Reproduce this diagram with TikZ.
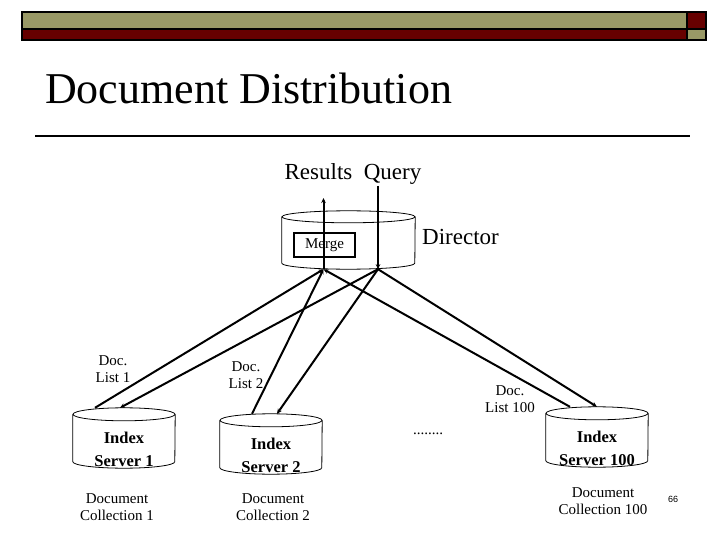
\documentclass[tikz,border=0pt]{standalone}
\usepackage{fontspec}
\setmainfont{Liberation Serif}
\setsansfont{Liberation Sans}
\usetikzlibrary{arrows.meta}
\definecolor{barolive}{RGB}{153,153,102}
\definecolor{bardarkred}{RGB}{102,0,0}
\tikzstyle{server} = [rectangle, minimum width=102pt, minimum height=60pt, inner sep=0pt]
\tikzstyle{srvtext} = [align=center, inner sep=0pt, font=\bfseries\fontsize{16.5}{23}\selectfont]
\tikzstyle{director} = [rectangle, minimum width=133pt, minimum height=58pt, inner sep=0pt]
\tikzstyle{dbline} = [draw=black, line width=0.8pt]
\tikzstyle{mergebox} = [rectangle, draw=black, line width=2.5pt, minimum width=61pt, minimum height=24pt, font=\fontsize{15}{17}\selectfont]
\tikzstyle{doclabel} = [align=center, inner sep=0pt, font=\fontsize{15}{17}\selectfont]
\tikzstyle{link} = [line width=2pt, -{Stealth[length=5pt,width=4.5pt]}]

% cylinder outline round a node: #1 node, #2 x radius, #3 y radius
\newcommand{\dbshape}[3]{%
  \draw[dbline] ([yshift=-#3]#1.north west) -- ([yshift=#3]#1.south west)
    arc[start angle=180, end angle=360, x radius=#2, y radius=#3]
    -- ([yshift=-#3]#1.north east);
  \draw[dbline] ([yshift=-#3]#1.north) ellipse [x radius=#2, y radius=#3];
}

\begin{document}
\begin{tikzpicture}[x=1pt,y=-1pt]
\useasboundingbox (0,0) rectangle (720,540);

% top bar
\draw[fill=barolive, line width=1.6pt] (22,12) rectangle (687,29);
\draw[fill=bardarkred, line width=1.6pt] (687,12) rectangle (706,29);
\draw[fill=bardarkred, line width=1.6pt] (22,29) rectangle (687,40);
\draw[fill=barolive, line width=1.6pt] (687,29) rectangle (706,40);

\node[anchor=base west, inner sep=0pt, font=\fontsize{44}{50}\selectfont] (title) at (45,104) {Document Distribution};
\draw[line width=1.5pt] (35,136) -- (690,136);

\node[anchor=base, inner sep=0pt, font=\fontsize{23}{26}\selectfont] (rq) at (353,180) {Results\ \ Query};

% director
\node (director) [director] at (348.5,240) {};
\dbshape{director}{66.5pt}{6pt}
\node (merge) [mergebox] at (324.5,245) {Merge};
\node[anchor=base west, inner sep=0pt, font=\fontsize{23}{26}\selectfont] (dirname) at (422,244) {Director};

\coordinate (mergept) at ([xshift=-25pt]director.south);
\coordinate (querypt) at ([xshift=29.5pt]director.south);
\coordinate (res) at (mergept |- 0,198);
\coordinate (qry) at (querypt |- 0,186);
\draw[link] (mergept) -- (res);
\draw[link] (qry) -- (querypt);

% index servers
\node (srv1) [server] at (124,438) {};
\node (srv2) [server] at (271,444) {};
\node (srv100) [server] at (597,437) {};
\dbshape{srv1}{51pt}{6.5pt}
\dbshape{srv2}{51pt}{6.5pt}
\dbshape{srv100}{51pt}{6.5pt}
\node (srv1text) [srvtext] at ([yshift=-11pt]srv1.center) {Index\\Server 1};
\node (srv2text) [srvtext] at ([yshift=-11pt]srv2.center) {Index\\Server 2};
\node (srv100text) [srvtext] at ([yshift=-11pt]srv100.center) {Index\\Server 100};

\draw[link] ([xshift=-29pt]srv1.north) -- (mergept);
\draw[link] (querypt) -- ([xshift=-4pt]srv1.north);
\draw[link] ([xshift=-19pt]srv2.north) -- (mergept);
\draw[link] (querypt) -- ([xshift=6pt]srv2.north);
\draw[link] ([xshift=-27pt]srv100.north) -- (mergept);
\draw[link] (querypt) -- (srv100.north);

\node (list1) [doclabel] at (113,369) {Doc.\\List 1};
\node (list2) [doclabel] at (246,375) {Doc.\\List 2};
\node (list100) [doclabel] at (510,399) {Doc.\\List 100};
\node (dots) [doclabel] at (428,434) {........};

\node (coll1) [doclabel] at (117,507) {Document\\Collection 1};
\node (coll2) [doclabel] at (273,507) {Document\\Collection 2};
\node (coll100) [doclabel] at (603,501) {Document\\Collection 100};

\node (pagenum) [inner sep=0pt, font=\sffamily\fontsize{9}{10}\selectfont] at (673,499) {66};

\end{tikzpicture}
\end{document}
